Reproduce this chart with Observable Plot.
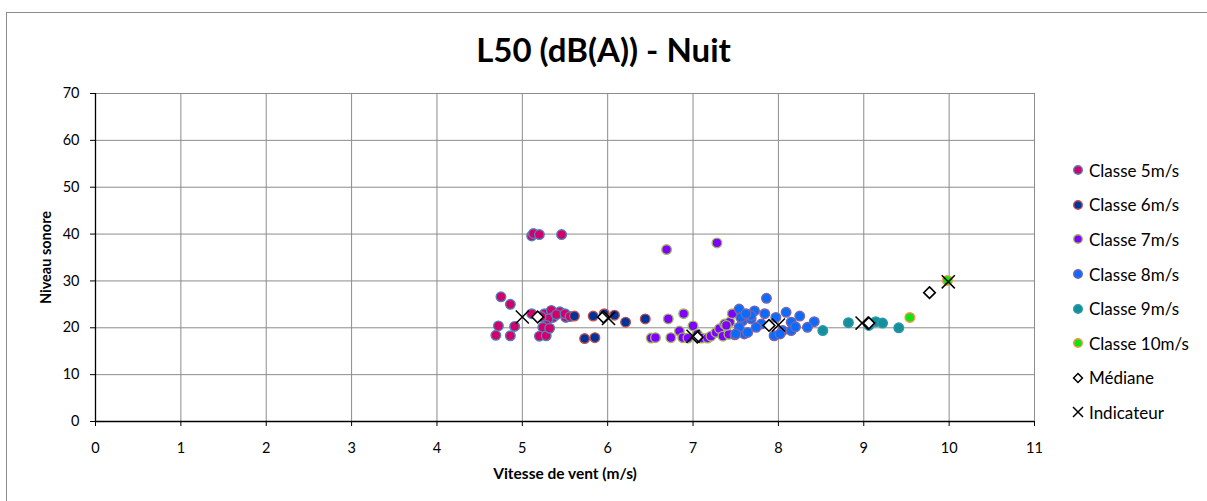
<!DOCTYPE html>
<html>
<head>
<meta charset="utf-8">
<script src="https://cdn.jsdelivr.net/npm/d3@7"></script>
<script src="https://cdn.jsdelivr.net/npm/@observablehq/plot@0.6"></script>
<style>
  html, body { margin: 0; padding: 0; background: #fff; overflow: hidden; }
  body { width: 1207px; height: 501px; position: relative; font-family: Lato, "Open Sans", sans-serif; }
  #frame { position: absolute; left: 6px; top: 12px; width: 1210px; height: 500px; border: 1px solid #8c8c8c; box-sizing: border-box; pointer-events: none; }
  #title { height: 80px; width: 1207px; box-sizing: border-box; padding-top: 30px; text-align: center; font-weight: bold; font-size: 33px; line-height: 38px; color: #000; }
  #chart svg { display: block; font-family: Lato, sans-serif; }
  #chart g[aria-label="x-axis label"] text { font-weight: bold; font-size: 15.5px; }
  #chart g[aria-label="y-axis label"] text { font-weight: bold; font-size: 14.5px; }
  #chart g[aria-label="x-axis tick label"] text, #chart g[aria-label="y-axis tick label"] text { font-size: 14.5px; }
  #legend { position: absolute; left: 1070px; top: 153px; font-size: 17px; color: #000; }
  .item { height: 34.6px; display: flex; align-items: center; }
  .item svg { width: 16px; height: 16px; margin-right: 3px; flex: none; }
</style>
</head>
<body>
<div id="frame"></div>
<div id="title"><span>L50 (dB(A)) - Nuit</span></div>
<div id="chart"></div>
<div id="legend"></div>
<script>
// ---------- data ----------
const xTicks = [0, 1, 2, 3, 4, 5, 6, 7, 8, 9, 10, 11];
const yTicks = [0, 10, 20, 30, 40, 50, 60, 70];

const classLabels = ["Classe 5m/s", "Classe 6m/s", "Classe 7m/s", "Classe 8m/s", "Classe 9m/s", "Classe 10m/s"];

const class5x = [4.75, 4.86, 4.72, 4.69, 4.86, 4.91, 5.11, 5.13, 5.20, 5.46, 5.11, 5.26, 5.34, 5.44, 5.36, 5.51, 5.30, 5.28, 5.24, 5.20, 5.28, 5.40, 5.50, 5.32, 5.56, 5.22];
const class5y = [26.6, 25.0, 20.4, 18.4, 18.3, 20.3, 39.6, 40.1, 39.9, 39.9, 23.0, 23.0, 23.7, 23.4, 22.2, 22.2, 21.9, 20.5, 20.1, 18.2, 18.3, 22.8, 23.0, 19.9, 22.4, 22.4];

const class6x = [5.61, 5.83, 5.96, 6.08, 6.21, 6.44, 5.73, 5.85];
const class6y = [22.5, 22.5, 23.0, 22.7, 21.2, 21.9, 17.7, 17.9];

const class7x = [6.69, 7.28, 6.71, 6.89, 6.51, 6.56, 6.74, 6.84, 6.88, 6.94, 7.00, 7.05, 7.10, 7.17, 7.21, 7.27, 7.31, 7.35, 7.37, 7.42, 7.43, 7.46, 7.39];
const class7y = [36.7, 38.1, 21.9, 23.0, 17.8, 17.9, 17.9, 19.3, 17.9, 17.8, 20.4, 18.6, 17.8, 17.8, 18.2, 19.0, 19.8, 18.2, 20.8, 18.6, 21.2, 23.0, 20.5];

const class8x = [7.54, 7.86, 7.72, 7.84, 7.97, 8.09, 8.25, 8.42, 8.34, 8.15, 8.05, 7.95, 8.15, 7.60, 7.49, 7.58, 7.68, 7.80, 7.54, 7.56, 7.68, 7.64, 7.74, 8.02, 8.20, 7.62, 7.50];
const class8y = [24.0, 26.3, 23.6, 23.0, 22.2, 23.3, 22.5, 21.3, 20.1, 21.2, 19.4, 18.3, 19.4, 18.7, 18.5, 21.5, 21.9, 20.8, 20.1, 22.2, 22.6, 19.0, 20.1, 18.7, 20.2, 23.0, 18.7];

const class9x = [8.52, 8.82, 9.06, 9.14, 9.22, 9.41];
const class9y = [19.4, 21.1, 20.5, 21.3, 21.0, 20.0];

const class10x = [9.54, 9.98];
const class10y = [22.2, 30.1];

const medianX = [5.18, 5.95, 7.05, 7.89, 9.06, 9.77];
const medianY = [22.3, 22.3, 18.0, 20.5, 21.0, 27.5];

const indicX = [5.00, 6.01, 7.00, 8.00, 8.98, 9.99];
const indicY = [22.3, 22.0, 18.2, 20.6, 21.0, 29.8];

// ---------- styles ----------
const fills = ["#D4006A", "#00349A", "#8000FF", "#0A6CFF", "#168F9C", "#12E312"];
const strokes = ["#4F81BD", "#C0504D", "#9BBB59", "#8064A2", "#2A9AAA", "#F79646"];

const classXs = [class5x, class6x, class7x, class8x, class9x, class10x];
const classYs = [class5y, class6y, class7y, class8y, class9y, class10y];

const points = classXs.map((xs, i) => xs.map((x, j) => ({x, y: classYs[i][j], c: i})));
const medians = medianX.map((x, i) => ({x, y: medianY[i]}));
const indics = indicX.map((x, i) => ({x, y: indicY[i]}));

const grid = "#8c8c8c";

const chart = Plot.plot({
  width: 1207,
  height: 421,
  marginLeft: 95,
  marginRight: 173,
  marginTop: 13,
  marginBottom: 80,
  style: {fontSize: "14px", fontFamily: "Lato, sans-serif", color: "#000", background: "#fff"},
  x: {domain: [0, 11]},
  y: {domain: [0, 70]},
  marks: [
    Plot.gridX(xTicks, {stroke: grid, strokeOpacity: 1}),
    Plot.gridY(yTicks, {stroke: grid, strokeOpacity: 1}),
    Plot.ruleX([0], {stroke: "#000", strokeWidth: 1.3}),
    Plot.ruleY([0], {stroke: "#000", strokeWidth: 1.3}),
    Plot.axisX(xTicks, {tickSize: 5, tickPadding: 16, fontSize: 14, label: "Vitesse de vent (m/s)", labelAnchor: "center", labelOffset: 57, labelArrow: "none", stroke: "#000"}),
    Plot.axisY(yTicks, {tickSize: 5, tickPadding: 11, fontSize: 14, label: "Niveau sonore", labelAnchor: "center", labelOffset: 55, labelArrow: "none", stroke: "#000"}),
    ...points.map((pts, i) => Plot.dot(pts, {x: "x", y: "y", r: 4.8, fill: fills[i], stroke: strokes[i], strokeWidth: 1.4})),
    Plot.dot(medians, {x: "x", y: "y", symbol: "diamond2", r: 5.2, fill: "#fff", stroke: "#000", strokeWidth: 1.6}),
    Plot.dot(indics, {x: "x", y: "y", symbol: "times", r: 6, stroke: "#000", strokeWidth: 1.5})
  ]
});
document.getElementById("chart").appendChild(chart);

// ---------- legend ----------
const legend = document.getElementById("legend");
const ns = "http://www.w3.org/2000/svg";
function addItem(label, draw) {
  const d = document.createElement("div");
  d.className = "item";
  const s = document.createElementNS(ns, "svg");
  s.setAttribute("viewBox", "-8 -8 16 16");
  draw(s);
  d.appendChild(s);
  const t = document.createElement("span");
  t.textContent = label;
  d.appendChild(t);
  legend.appendChild(d);
}
classLabels.forEach((lab, i) => addItem(lab, s => {
  const c = document.createElementNS(ns, "circle");
  c.setAttribute("r", 4.3);
  c.setAttribute("fill", fills[i]);
  c.setAttribute("stroke", strokes[i]);
  c.setAttribute("stroke-width", 1.4);
  s.appendChild(c);
}));
addItem("Médiane", s => {
  const p = document.createElementNS(ns, "path");
  p.setAttribute("d", d3.symbol(d3.symbolDiamond2, 50)());
  p.setAttribute("fill", "#fff");
  p.setAttribute("stroke", "#000");
  p.setAttribute("stroke-width", 1.5);
  s.appendChild(p);
});
addItem("Indicateur", s => {
  const p = document.createElementNS(ns, "path");
  p.setAttribute("d", "M-5,-5L5,5M-5,5L5,-5");
  p.setAttribute("stroke", "#000");
  p.setAttribute("stroke-width", 1.5);
  s.appendChild(p);
});
</script>
</body>
</html>
